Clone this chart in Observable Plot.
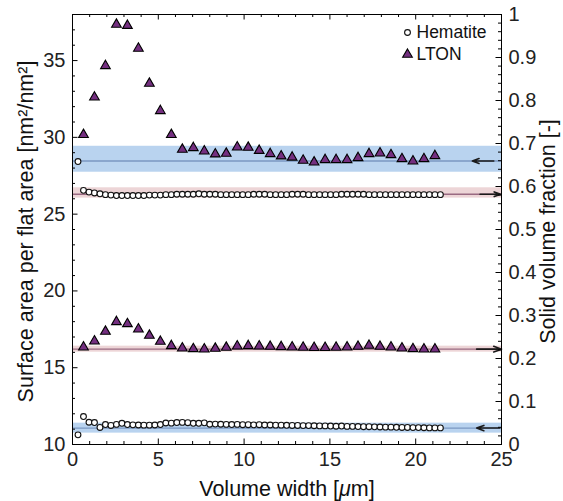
<!DOCTYPE html>
<html><head><meta charset="utf-8">
<script src="https://cdn.jsdelivr.net/npm/d3@7"></script>
<script src="https://cdn.jsdelivr.net/npm/@observablehq/plot@0.6"></script>
<style>body{margin:0;background:#fff} svg{display:block}</style>
</head><body><div id="chart"></div>
<script>
// ---- data ----
const hematiteStep = 0.32;   // µm between hematite samples
const ltonStep = 0.64;       // µm between LTON samples

// Hematite surface area per flat area (left axis)
const hematiteArea = [10.63,11.82,11.45,11.43,11.11,11.30,11.24,11.31,11.38,11.30,
  11.28,11.27,11.26,11.26,11.27,11.30,11.40,11.39,11.43,11.44,
  11.42,11.38,11.38,11.41,11.32,11.33,11.32,11.31,11.30,11.31,
  11.29,11.29,11.28,11.29,11.27,11.27,11.26,11.26,11.25,11.24,
  11.24,11.23,11.23,11.22,11.21,11.21,11.20,11.19,11.20,11.18,
  11.18,11.17,11.16,11.16,11.15,11.14,11.13,11.13,11.12,11.11,
  11.11,11.10,11.10,11.09,11.08,11.08,11.08];
// Hematite solid volume fraction (right axis)
const hematiteFraction = [0.658,0.591,0.587,0.585,0.583,0.581,0.580,0.579,0.579,0.579,
  0.579,0.579,0.579,0.580,0.580,0.580,0.581,0.581,0.582,0.582,
  0.582,0.582,0.583,0.582,0.582,0.582,0.581,0.581,0.581,0.581,
  0.581,0.581,0.582,0.582,0.582,0.581,0.581,0.581,0.581,0.582,
  0.582,0.582,0.581,0.581,0.581,0.581,0.581,0.581,0.582,0.582,
  0.582,0.582,0.582,0.581,0.581,0.581,0.581,0.581,0.581,0.581,
  0.581,0.581,0.581,0.581,0.581,0.581,0.581];
// LTON surface area per flat area (left axis)
const ltonArea = [30.17,32.61,34.66,37.35,37.28,35.79,33.51,31.73,30.17,29.21,
  29.32,29.10,28.91,28.95,29.36,29.34,29.14,28.93,28.78,28.70,
  28.50,28.38,28.54,28.54,28.54,28.67,28.93,28.97,28.86,28.60,
  28.45,28.60,28.80];
// LTON solid volume fraction (right axis)
const ltonFraction = [0.2263,0.2403,0.2628,0.2853,0.2806,0.2682,0.2535,0.2395,0.2295,0.2240,
  0.2225,0.2217,0.2233,0.2256,0.2287,0.2295,0.2287,0.2279,0.2272,0.2263,
  0.2258,0.2252,0.2252,0.2258,0.2263,0.2279,0.2302,0.2279,0.2263,0.2240,
  0.2225,0.2217,0.2217];

// reference bands: [low, centre, high]
const ltonAreaBand = [27.73, 28.46, 29.42];          // left axis
const hematiteAreaBand = [10.74, 11.07, 11.39];      // left axis
const hematiteFractionBand = [0.573, 0.582, 0.597];  // right axis
const ltonFractionBand = [0.2147, 0.2217, 0.2287];   // right axis

// arrows point to the axis each band belongs to: [from x, to x]
const arrowLtonArea = [24.55, 23.3];
const arrowHematiteArea = [24.9, 23.55];
const arrowHematiteFraction = [23.75, 24.95];
const arrowLtonFraction = [23.55, 25.0];

const xTicks = [0,5,10,15,20,25];
const leftTicks = [10,15,20,25,30,35];
const rightTicks = [0,0.1,0.2,0.3,0.4,0.5,0.6,0.7,0.8,0.9,1];
const xDomain = [0,25];
const leftDomain = [10,38];

const xTitle = "Volume width [μm]";
const leftTitle = "Surface area per flat area [nm²/nm²]";
const rightTitle = "Solid volume fraction [-]";
const legendNames = ["Hematite", "LTON"];

// ---- layout ----
const W = 563, H = 501;
const mT = 14, mB = 57, mL = 72, mR = 62;
const pW = W - mL - mR, pH = H - mT - mB;
const toLeft = r => leftDomain[0] + (leftDomain[1]-leftDomain[0]) * r;

const hemA = hematiteArea.map((v,i)=>({x:(i+1)*hematiteStep, v}));
const hemF = hematiteFraction.map((v,i)=>({x:(i+1)*hematiteStep, v}));
const ltA = ltonArea.map((v,i)=>({x:(i+1)*ltonStep, v}));
const ltF = ltonFraction.map((v,i)=>({x:(i+1)*ltonStep, v}));

const bandsLeft = [ltonAreaBand, hematiteAreaBand].map(b=>({lo:b[0], c:b[1], hi:b[2]}));
const bandsRight = [hematiteFractionBand, ltonFractionBand].map(b=>({lo:b[0], c:b[1], hi:b[2]}));
const arrows = [
  {x1:arrowLtonArea[0], x2:arrowLtonArea[1], y:ltonAreaBand[1]},
  {x1:arrowHematiteArea[0], x2:arrowHematiteArea[1], y:hematiteAreaBand[1]},
  {x1:arrowHematiteFraction[0], x2:arrowHematiteFraction[1], y:toLeft(hematiteFractionBand[1])},
  {x1:arrowLtonFraction[0], x2:arrowLtonFraction[1], y:toLeft(ltonFractionBand[1])}
];

const xMinor = d3.range(0, 26, 1).filter(v => v % 5 !== 0);
const leftMinor = d3.range(10, 39, 1).filter(v => v % 5 !== 0);
const rightMinor = d3.range(0, 51, 1).filter(i => i % 5 !== 0).map(i => i/50);

const blueBand = "#b9d3ef", blueLine = "#7b97c2";
const pinkBand = "#edd5d7", pinkLine = "#9a6a82";
const purple = "#742f80";
const minorLen = 3, majorLen = 5.5;

const fmtR = v => { const r = Math.round((v - leftDomain[0]) / (leftDomain[1]-leftDomain[0]) * 10) / 10; return String(r); };

const chart = Plot.plot({
  width: W, height: H,
  marginTop: mT, marginBottom: mB, marginLeft: mL, marginRight: mR,
  style: {fontFamily: "'Liberation Sans', Arial, sans-serif", fontSize: "20px", color: "#222", background: "#fff"},
  x: {domain: xDomain, nice: false},
  y: {domain: leftDomain, nice: false},
  marks: [
    // bands
    Plot.rectY(bandsLeft, {y1: "lo", y2: "hi", fill: blueBand}),
    Plot.rectY(bandsRight, {y1: d => toLeft(d.lo), y2: d => toLeft(d.hi), fill: pinkBand}),
    Plot.ruleY(bandsLeft, {y: "c", stroke: blueLine, strokeWidth: 1.3}),
    Plot.ruleY(bandsRight, {y: d => toLeft(d.c), stroke: pinkLine, strokeWidth: 1.3}),
    Plot.arrow(arrows, {x1: "x1", x2: "x2", y1: "y", y2: "y", stroke: "#1a1a1a", strokeWidth: 1.6, headLength: 8, headAngle: 40}),
    // data
    Plot.dot(hemA, {x: "x", y: "v", r: 2.9, fill: "#fff", stroke: "#111", strokeWidth: 1.1}),
    Plot.dot(hemF, {x: "x", y: d => toLeft(d.v), r: 2.9, fill: "#fff", stroke: "#111", strokeWidth: 1.1}),
    Plot.dot(ltA, {x: "x", y: "v", symbol: "triangle", r: 3.6, fill: purple, stroke: "#000", strokeWidth: 1.1}),
    Plot.dot(ltF, {x: "x", y: d => toLeft(d.v), symbol: "triangle", r: 3.6, fill: purple, stroke: "#000", strokeWidth: 1.1}),
    // frame
    Plot.frame({stroke: "#000", strokeWidth: 1}),
    // inward ticks
    Plot.tickX(xMinor, {x: d => d, insetTop: pH - minorLen, stroke: "#000"}),
    Plot.tickX(xTicks, {x: d => d, insetTop: pH - majorLen, stroke: "#000"}),
    Plot.tickX(xMinor, {x: d => d, insetBottom: pH - minorLen, stroke: "#000"}),
    Plot.tickX(xTicks, {x: d => d, insetBottom: pH - majorLen, stroke: "#000"}),
    Plot.tickY(leftMinor, {y: d => d, insetRight: pW - minorLen, stroke: "#000"}),
    Plot.tickY(leftTicks, {y: d => d, insetRight: pW - majorLen, stroke: "#000"}),
    Plot.tickY(rightMinor, {y: d => toLeft(d), insetLeft: pW - minorLen, stroke: "#000"}),
    Plot.tickY(rightTicks, {y: d => toLeft(d), insetLeft: pW - majorLen, stroke: "#000"}),
    // axes (labels only)
    Plot.axisX({ticks: xTicks, tickSize: 0, tickPadding: 7, label: null, fontSize: 20}),
    Plot.axisY({anchor: "left", ticks: leftTicks, tickSize: 0, tickPadding: 7, label: null, fontSize: 20}),
    Plot.axisY({anchor: "right", ticks: rightTicks.map(toLeft), tickFormat: fmtR, tickSize: 0, tickPadding: 7, label: null, fontSize: 20}),
    // axis titles
    Plot.text([xTitle], {frameAnchor: "bottom", dy: 45, text: d => d, lineAnchor: "middle", textAnchor: "middle", fontSize: 21.5, fill: "#111"}),
    Plot.text([leftTitle], {frameAnchor: "left", dx: -46, dy: 2, rotate: -90, text: d => d, lineAnchor: "middle", textAnchor: "middle", fontSize: 21.5, fill: "#111"}),
    Plot.text([rightTitle], {frameAnchor: "right", dx: 47, dy: 2, rotate: -90, text: d => d, lineAnchor: "middle", textAnchor: "middle", fontSize: 21.5, fill: "#111"}),
    // legend
    Plot.dot([0], {x: null, y: null, frameAnchor: "top-right", dx: -94, dy: 18, r: 2.9, fill: "#fff", stroke: "#111", strokeWidth: 1.1}),
    Plot.dot([0], {x: null, y: null, frameAnchor: "top-right", dx: -94, dy: 40, symbol: "triangle", r: 3.6, fill: purple, stroke: "#000", strokeWidth: 1.1}),
    Plot.text([legendNames[0]], {frameAnchor: "top-right", dx: -85, dy: 18, text: d => d, textAnchor: "start", lineAnchor: "middle", fontSize: 17.5, fill: "#111"}),
    Plot.text([legendNames[1]], {frameAnchor: "top-right", dx: -85, dy: 40, text: d => d, textAnchor: "start", lineAnchor: "middle", fontSize: 17.5, fill: "#111"})
  ]
});
document.getElementById("chart").appendChild(chart);

// italic µ in the x title
chart.querySelectorAll("text").forEach(t => {
  if (t.textContent === xTitle) {
    t.textContent = "";
    const ns = "http://www.w3.org/2000/svg";
    const a = document.createElementNS(ns, "tspan"); a.textContent = "Volume width [";
    const b = document.createElementNS(ns, "tspan"); b.textContent = "μ"; b.setAttribute("font-style", "italic");
    const c = document.createElementNS(ns, "tspan"); c.textContent = "m]";
    t.append(a, b, c);
  }
});
</script>
</body></html>
